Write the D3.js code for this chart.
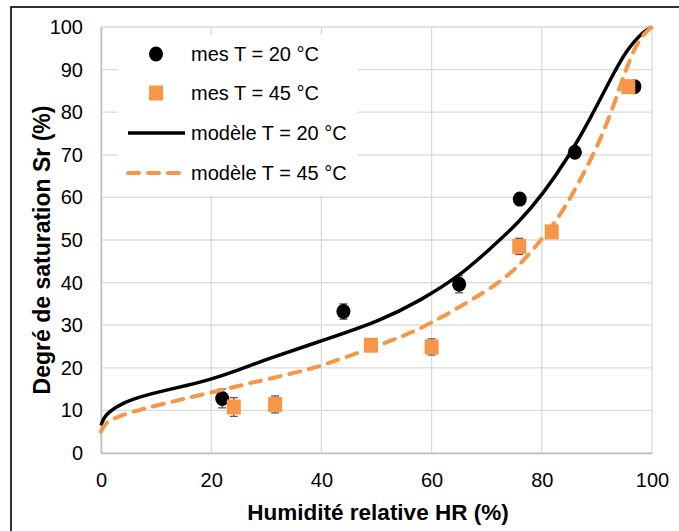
<!DOCTYPE html>
<html>
<head>
<meta charset="utf-8">
<script src="https://cdn.jsdelivr.net/npm/d3@7"></script>
<style>
  body { margin: 0; background: #fff; }
  svg text { font-family: "Liberation Sans", Arial, sans-serif; fill: #000; }
</style>
</head>
<body>
<svg id="chart"></svg>
<script>
// measured points, T = 20 °C
const hr20 = [22, 44, 65, 76, 86, 96.8];
const sr20 = [12.8, 33.2, 39.6, 59.6, 70.6, 86];
const err20 = [2.2, 1.8, 2, 0.5, 0.5, 0.5];

// measured points, T = 45 °C
const hr45 = [24.1, 31.6, 49, 60, 75.9, 81.8, 95.7];
const sr45 = [10.8, 11.4, 25.3, 24.9, 48.5, 51.9, 86];
const err45 = [2.2, 2, 0.8, 1.9, 1.9, 0.5, 0.5];

// model curves
const modelHr20 = [0, 0.5, 1.3, 3.75, 8, 14, 19, 24.6, 30, 41.6, 50.6, 58, 65, 70, 76, 80.3, 84.5, 88.7, 93, 95.4, 98.4, 100];
const modelSr20 = [6.5, 8.2, 9.5, 11.7, 13.6, 15.4, 16.9, 19.3, 22.0, 27.0, 31.0, 35.8, 41.5, 47.2, 54.3, 61, 68.8, 78.2, 89.1, 94.6, 99, 100];
const modelHr45 = [0, 0.5, 1.3, 3.75, 8, 14, 20, 27, 37.9, 41.6, 50.6, 57.9, 63.9, 70, 74.8, 78.4, 83.3, 86.3, 90, 93, 95.4, 97.8, 100];
const modelSr45 = [5.0, 6.4, 7.5, 8.9, 10.5, 12.4, 14.2, 16.4, 19.6, 21.2, 25.3, 29, 33.4, 38, 42.5, 47.7, 55.5, 62.5, 71.5, 81.3, 90.7, 97.7, 100];

const xTicks = [0, 20, 40, 60, 80, 100];
const yTicks = [0, 10, 20, 30, 40, 50, 60, 70, 80, 90, 100];

const legendLabels = ['mes T = 20 °C', 'mes T = 45 °C', 'modèle T = 20 °C', 'modèle T = 45 °C'];

const orange = '#f79646';
const width = 679, height = 531;
const margin = { top: 27, right: 27, bottom: 78, left: 101 };
const innerW = width - margin.left - margin.right;
const innerH = height - margin.top - margin.bottom;

const svg = d3.select('#chart')
    .attr('width', width)
    .attr('height', height);

// outer frame (only top and left edges are inside the picture)
svg.append('rect')
    .attr('x', 11).attr('y', 7)
    .attr('width', 700).attr('height', 560)
    .attr('fill', 'none')
    .attr('stroke', '#000')
    .attr('stroke-width', 1.6);

const chart = svg.append('g')
    .attr('transform', `translate(${margin.left},${margin.top})`);

const x = d3.scaleLinear().domain([0, 100]).range([0, innerW]);
const y = d3.scaleLinear().domain([0, 100]).range([innerH, 0]);

// gridlines
chart.append('g')
    .selectAll('line')
    .data(yTicks)
    .join('line')
    .attr('x1', 0).attr('x2', innerW)
    .attr('y1', d => y(d)).attr('y2', d => y(d))
    .attr('stroke', '#d9d9d9')
    .attr('stroke-width', 1.3);

chart.append('g')
    .selectAll('line')
    .data(xTicks)
    .join('line')
    .attr('x1', d => x(d)).attr('x2', d => x(d))
    .attr('y1', 0).attr('y2', innerH)
    .attr('stroke', '#d9d9d9')
    .attr('stroke-width', 1.3);

// axes
const xAxis = d3.axisBottom(x).tickValues(xTicks).tickSize(0).tickPadding(20);
const yAxis = d3.axisLeft(y).tickValues(yTicks).tickSize(0).tickPadding(18);

const xAxisG = chart.append('g')
    .attr('transform', `translate(0,${innerH})`)
    .call(xAxis);
const yAxisG = chart.append('g').call(yAxis);

[xAxisG, yAxisG].forEach(g => {
    g.select('.domain').attr('stroke', '#bfbfbf').attr('stroke-width', 1.5);
    g.selectAll('text')
        .attr('font-size', 20)
        .attr('font-family', '"Liberation Sans", Arial, sans-serif')
        .attr('fill', '#000');
});

// legend background hides gridlines behind it
chart.append('rect')
    .attr('x', 17).attr('y', 8)
    .attr('width', 240).attr('height', 160)
    .attr('fill', '#fff');

// error bars
function errorBars(hr, sr, err) {
    const g = chart.append('g')
        .attr('stroke', '#595959')
        .attr('stroke-width', 1.3);
    hr.forEach((h, i) => {
        const cx = x(h), y1 = y(sr[i] - err[i]), y2 = y(sr[i] + err[i]);
        g.append('line').attr('x1', cx).attr('x2', cx).attr('y1', y1).attr('y2', y2);
        g.append('line').attr('x1', cx - 4).attr('x2', cx + 4).attr('y1', y1).attr('y2', y1);
        g.append('line').attr('x1', cx - 4).attr('x2', cx + 4).attr('y1', y2).attr('y2', y2);
    });
}

errorBars(hr20, sr20, err20);

chart.append('g')
    .selectAll('ellipse')
    .data(hr20)
    .join('ellipse')
    .attr('cx', d => x(d))
    .attr('cy', (d, i) => y(sr20[i]))
    .attr('rx', 7)
    .attr('ry', 7.5)
    .attr('fill', '#000');

errorBars(hr45, sr45, err45);

chart.append('g')
    .selectAll('rect')
    .data(hr45)
    .join('rect')
    .attr('x', d => x(d) - 7)
    .attr('y', (d, i) => y(sr45[i]) - 7.5)
    .attr('width', 14)
    .attr('height', 15)
    .attr('fill', orange);

// model curves
const line = d3.line()
    .x(d => x(d[0]))
    .y(d => y(d[1]))
    .curve(d3.curveBasis);

chart.append('path')
    .datum(modelHr20.map((h, i) => [h, modelSr20[i]]))
    .attr('d', line)
    .attr('fill', 'none')
    .attr('stroke', '#000')
    .attr('stroke-width', 3.5);

chart.append('path')
    .datum(modelHr45.map((h, i) => [h, modelSr45[i]]))
    .attr('d', line)
    .attr('fill', 'none')
    .attr('stroke', orange)
    .attr('stroke-width', 4)
    .attr('stroke-linecap', 'round')
    .attr('stroke-dasharray', '11,9');

// legend
const legend = chart.append('g');
const rowY = [27, 66, 106, 146];
const symX = 55;

legend.append('ellipse')
    .attr('cx', symX).attr('cy', rowY[0]).attr('rx', 7).attr('ry', 7.5).attr('fill', '#000');
legend.append('rect')
    .attr('x', symX - 7).attr('y', rowY[1] - 7.5)
    .attr('width', 14).attr('height', 15).attr('fill', orange);
legend.append('line')
    .attr('x1', 27).attr('x2', 84)
    .attr('y1', rowY[2]).attr('y2', rowY[2])
    .attr('stroke', '#000').attr('stroke-width', 3.5);
legend.append('line')
    .attr('x1', 27).attr('x2', 84)
    .attr('y1', rowY[3]).attr('y2', rowY[3])
    .attr('stroke', orange).attr('stroke-width', 4)
    .attr('stroke-linecap', 'round')
    .attr('stroke-dasharray', '11,9');

legend.selectAll('text')
    .data(legendLabels)
    .join('text')
    .attr('x', 90)
    .attr('y', (d, i) => rowY[i])
    .attr('dy', '0.35em')
    .attr('font-size', 20)
    .text(d => d);

// axis titles
svg.append('text')
    .attr('text-anchor', 'middle')
    .attr('x', 378)
    .attr('y', 520)
    .attr('font-size', 22.5)
    .attr('font-weight', 'bold')
    .text('Humidité relative HR (%)');

svg.append('text')
    .attr('text-anchor', 'middle')
    .attr('transform', 'rotate(-90)')
    .attr('x', -250)
    .attr('y', 50)
    .attr('font-size', 23)
    .attr('font-weight', 'bold')
    .text('Degré de saturation Sr (%)');
</script>
</body>
</html>
